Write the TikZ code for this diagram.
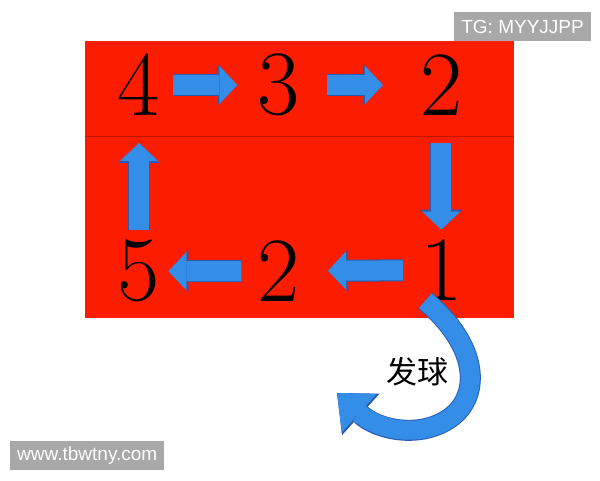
\documentclass[tikz,border=0pt]{standalone}
\usepackage{fontspec}
\newfontfamily\cjk{Noto Sans CJK SC}
\newfontfamily\wmfont{Liberation Sans}
\definecolor{courtred}{RGB}{252,28,0}
\definecolor{linered}{RGB}{190,20,0}
\definecolor{arrowblue}{RGB}{52,142,232}
\definecolor{arrowedge}{RGB}{40,92,178}
\definecolor{wmgray}{RGB}{168,168,168}
\newcommand{\digitfont}{\fontsize{92}{92}\selectfont}
\usepackage{tikz}
\usetikzlibrary{arrows.meta, positioning}

\begin{document}
\begin{tikzpicture}[
    x=1pt, y=-1pt,
    digit/.style={inner sep=0pt, font=\digitfont},
    blockarrow/.style={line width=20pt, draw=arrowblue, -{Triangle[length=18pt, width=38pt, line width=0pt]},
        preaction={draw=arrowedge, line width=22pt, -{Triangle[length=20pt, width=42pt, line width=0pt]}}},
    servearrow/.style={line width=19pt, draw=arrowblue, -{Triangle[length=30pt, width=52pt, line width=0pt]},
        preaction={draw=arrowedge, line width=21pt, -{Triangle[length=32pt, width=56pt, line width=0pt]}}},
    watermark/.style={fill=wmgray, text=white, font=\wmfont\fontsize{19}{19}\selectfont, inner xsep=7pt, minimum height=29pt}
]
    \useasboundingbox (0,0) rectangle (600,480);

    % Court
    \fill[courtred] (85,41) rectangle (514,318);
    \draw[linered, line width=0.8pt] (85,136) -- (514,136);

    % Top row
    \node[digit] (d4) at (139,85) {4};
    \node[digit, right=97pt of d4] (d3) {3};
    \node[digit, right=120pt of d3] (d2t) {2};

    % Bottom row
    \node[digit, below=124pt of d4] (d5) {5};
    \node[digit, below=124pt of d3] (d2b) {2};
    \node[digit, below=124pt of d2t] (d1) {1};

    % Rotation arrows
    \draw[blockarrow, shorten <=13pt, shorten >=20pt] (d4) -- (d3);
    \draw[blockarrow, shorten <=27pt, shorten >=37pt] (d3) -- (d2t);
    \draw[blockarrow, shorten <=27pt, shorten >=10pt] (d2t) -- (d1);
    \draw[blockarrow, shorten <=17pt, shorten >=28pt] (d1) -- (d2b);
    \draw[blockarrow, shorten <=16pt, shorten >=8pt] (d2b) -- (d5);
    \draw[blockarrow, shorten <=10pt, shorten >=27pt] (d5) -- (d4);

    % Serve
    \coordinate (servetip) at (337,393);
    \draw[servearrow] ([xshift=-16pt]d1.south) .. controls (478,345) and (482,395) .. (450,418)
        .. controls (420,439) and (378,430) .. (servetip);
    \node[font=\cjk\fontsize{31}{31}\selectfont] (serve) at (417,372) {发球};

    % Watermarks
    \node[watermark, anchor=north east] (tg) at (591,12) {TG: MYYJJPP};
    \node[watermark, anchor=south west] (www) at (10,470) {www.tbwtny.com};

\end{tikzpicture}
\end{document}
